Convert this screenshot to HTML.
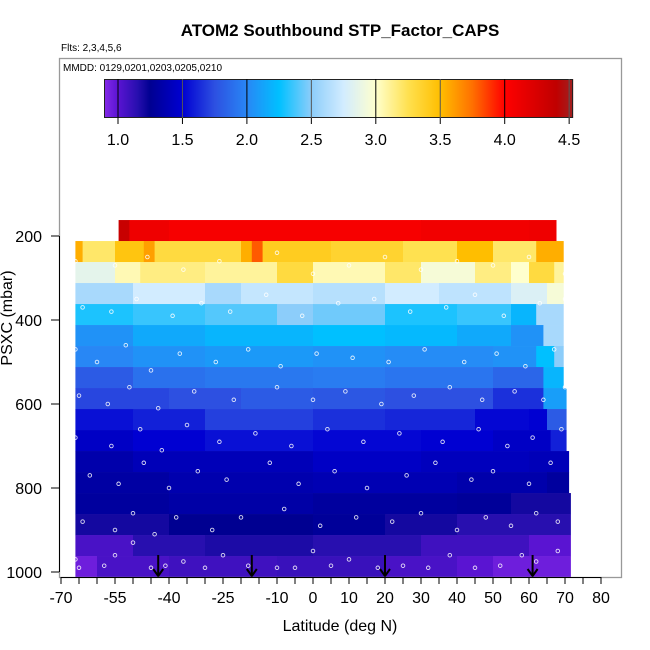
<!DOCTYPE html>
<html><head><meta charset="utf-8"><style>
body{margin:0;background:#fff}
svg{display:block;font-family:"Liberation Sans",sans-serif}
</style></head><body>
<svg id="c" width="650" height="650" viewBox="0 0 650 650">
<rect x="0" y="0" width="650" height="650" fill="#fff"/>
<g id="heat"></g>
<g id="pts"></g>
<g id="arrows"></g>
<rect x="59.5" y="58.5" width="562" height="519" fill="none" stroke="#999" stroke-width="1.3"/>
<g id="axes"></g>
<g id="cbar"></g>
<text x="340" y="36" text-anchor="middle" font-size="17" font-weight="bold">ATOM2 Southbound STP_Factor_CAPS</text>
<text x="61" y="51" font-size="10">Flts: 2,3,4,5,6</text>
<text x="63" y="71" font-size="10">MMDD: 0129,0201,0203,0205,0210</text>
<text x="340" y="631" text-anchor="middle" font-size="16">Latitude (deg N)</text>
<text transform="translate(12,318) rotate(-90)" text-anchor="middle" font-size="16">PSXC (mbar)</text>
</svg>
<script>
// ---- data ----
const bandCenters=[187,237,287,337,387,437,487,537,587,637,687,737,787,837,887,937,987];
const bandLatStart=[-54,-66,-66,-66,-66,-66,-66,-66,-66,-66,-66,-66,-66,-66,-66,-66,-66];
const bandLatEnd=[67.5,69.5,69.5,69.5,69.5,69.5,69.5,69.5,70.3,70.3,70.3,71,71,71.5,71.5,71.5,71.5];
// per band segments: [latFrom, value] (value holds until next segment)
const bandSegments=[
 [[-54,4.35],[-51,4.1],[-40,4.05],[30,4.08],[60,4.1]],
 [[-66,3.55],[-64,3.2],[-55,3.45],[-47,3.6],[-44,3.3],[-20,3.55],[-17,3.8],[-14,3.4],[5,3.35],[25,3.25],[40,3.5],[50,3.2],[62,3.55]],
 [[-66,2.85],[-55,3.05],[-48,3.15],[-30,3.1],[-10,3.3],[0,3.05],[20,3.2],[30,2.95],[45,3.15],[55,3.0],[60,3.3],[67,3.1]],
 [[-66,2.6],[-50,2.75],[-30,2.6],[-20,2.7],[0,2.65],[20,2.75],[35,2.68],[55,2.8],[65,2.95]],
 [[-66,2.3],[-50,2.35],[-30,2.4],[-10,2.5],[0,2.45],[20,2.3],[40,2.35],[55,2.2],[62,2.6]],
 [[-66,2.05],[-50,2.15],[-30,2.2],[0,2.25],[20,2.22],[40,2.15],[55,2.05],[64,2.6]],
 [[-66,2.0],[-50,2.05],[-30,2.08],[0,2.05],[20,2.02],[50,2.05],[62,2.25],[67,2.5]],
 [[-66,1.8],[-50,1.9],[-30,1.93],[0,1.95],[20,1.92],[50,1.85],[64,2.2]],
 [[-66,1.72],[-40,1.75],[-20,1.8],[0,1.78],[20,1.75],[50,1.65],[64,2.1]],
 [[-66,1.55],[-50,1.6],[-30,1.7],[0,1.65],[20,1.62],[45,1.52],[60,1.5],[65,1.8]],
 [[-66,1.45],[-50,1.5],[-30,1.55],[0,1.52],[30,1.5],[50,1.45],[66,1.6]],
 [[-66,1.35],[-50,1.4],[0,1.45],[30,1.42],[60,1.4]],
 [[-66,1.32],[-40,1.36],[0,1.38],[40,1.35],[65,1.3]],
 [[-66,1.3],[-40,1.33],[0,1.3],[40,1.28],[55,1.2]],
 [[-66,1.2],[-40,1.25],[0,1.28],[20,1.2],[40,1.15]],
 [[-66,1.05],[-50,1.15],[-30,1.18],[0,1.15],[30,1.08],[60,1.0]],
 [[-66,0.95],[-60,1.05],[-40,1.08],[-10,1.1],[20,1.05],[40,1.0],[50,0.95]]
];
const pointLat=[-66,-65,-58,-55,-50,-45,-41,-36,-30,-25,-18,-10,-5,0,5,10,18,25,32,38,45,52,58,62,68,
 -64,-55,-50,-44,-38,-28,-20,-8,2,12,22,30,40,48,55,62,68,
 -62,-54,-47,-40,-32,-24,-12,-4,6,15,26,34,44,50,60,66,
 -66,-56,-48,-42,-35,-26,-16,-6,4,14,24,36,46,54,61,69,
 -65,-57,-51,-43,-33,-22,-10,0,9,19,28,38,47,56,64,70,
 -66,-60,-52,-45,-37,-27,-18,-9,1,11,21,31,42,51,59,67,
 -64,-56,-49,-39,-31,-23,-13,-3,7,17,27,37,45,53,63,70,
 -66,-55,-46,-36,-26,-10,0,10,20,30,40,50,60,70];
const pointP=[970,990,985,960,930,990,985,975,990,960,985,990,990,950,985,970,990,985,990,960,990,985,960,975,950,
 880,900,860,910,870,900,870,850,890,870,880,860,900,870,890,860,880,
 770,790,740,800,760,780,740,790,760,800,770,740,780,760,790,740,
 680,700,660,710,650,690,670,700,660,690,670,690,660,700,680,660,
 580,600,560,610,570,590,560,590,570,600,580,560,590,570,590,560,
 470,500,460,520,480,500,470,510,480,490,500,470,500,480,510,470,
 370,380,350,390,360,380,340,390,360,350,380,370,340,390,360,350,
 260,270,250,280,260,240,290,270,250,280,260,270,250,290];
const arrowLat=[-43,-17,20,61];
const cbTicks=[1.0,1.5,2.0,2.5,3.0,3.5,4.0,4.5];
const xTickLabels=[-70,-55,-40,-25,-10,0,10,20,30,40,50,60,70,80];
const yTickLabels=[200,400,600,800,1000];
// ---- scales ----
const X=lat=>313+lat*3.6;
const Y=p=>572-(1000-p)*0.42;
const CB=v=>118+(v-1)*128.9;
const stops=[[0.9,[130,40,230]],[1.0,[90,20,210]],[1.15,[40,15,175]],[1.25,[0,0,145]],[1.5,[0,0,210]],[1.75,[45,80,225]],[2.0,[40,135,245]],[2.25,[0,192,255]],[2.5,[140,205,250]],[2.75,[210,236,255]],[3.0,[255,255,205]],[3.25,[255,225,80]],[3.5,[255,190,0]],[3.75,[255,112,0]],[4.0,[255,0,0]],[4.4,[192,0,0]],[4.53,[160,32,32]]];
function col(v){v=Math.max(0.9,Math.min(4.53,v));for(let i=0;i<stops.length-1;i++){const a=stops[i],b=stops[i+1];if(v<=b[0]){const t=(v-a[0])/(b[0]-a[0]);const c=a[1].map((x,j)=>Math.round(x+(b[1][j]-x)*t));return `rgb(${c})`;}}return 'rgb(160,32,32)';}
const NS='http://www.w3.org/2000/svg';
function mk(tag,attrs,parent){const e=document.createElementNS(NS,tag);for(const k in attrs)e.setAttribute(k,attrs[k]);parent.appendChild(e);return e;}
// heatmap
const heat=document.getElementById('heat');
bandCenters.forEach((pc,k)=>{
  const y0=Y(pc-25), y1=Math.min(Y(pc+25),577);
  const segs=bandSegments[k];
  segs.forEach((s,i)=>{
    const a=Math.max(s[0],bandLatStart[k]);
    const b=i<segs.length-1?segs[i+1][0]:bandLatEnd[k];
    const r=mk('rect',{x:X(a),y:y0,width:Math.max(0,X(b)-X(a))+0.5,height:y1-y0+0.3,fill:col(s[1])},heat);
    
    
  });
});
// points
const pts=document.getElementById('pts');
pointLat.forEach((la,i)=>{
  const c=mk('circle',{cx:X(la),cy:Y(pointP[i]),r:1.8,fill:'none',stroke:'#fff','stroke-width':0.9,'stroke-opacity':0.85},pts);
  
  
});
// arrows
const ar=document.getElementById('arrows');
arrowLat.forEach(la=>{
  const x=X(la);
  const g=mk('g',{},ar);
  
  
  mk('line',{x1:x,y1:555,x2:x,y2:576,stroke:'#000','stroke-width':2},g);
  mk('polyline',{points:`${x-5},569 ${x},576 ${x+5},569`,fill:'none',stroke:'#000','stroke-width':2},g);
});
// axes
const ax=document.getElementById('axes');
mk('line',{x1:X(-70),y1:577.5,x2:X(80),y2:577.5,stroke:'#000','stroke-width':1},ax);
for(let v=-70;v<=80;v+=5){mk('line',{x1:X(v),y1:577,x2:X(v),y2:584,stroke:'#000'},ax);}
xTickLabels.forEach(v=>{
  const t=mk('text',{x:X(v),y:603,'text-anchor':'middle','font-size':16},ax);t.textContent=v;
  
  
});
mk('line',{x1:59.5,y1:Y(200),x2:59.5,y2:Y(1000),stroke:'#000'},ax);
yTickLabels.forEach(v=>{
  mk('line',{x1:51,y1:Y(v),x2:59,y2:Y(v),stroke:'#000'},ax);
  const t=mk('text',{x:42,y:Y(v)+6,'text-anchor':'end','font-size':16},ax);t.textContent=v;
  
  
});
// colorbar
const cb=document.getElementById('cbar');
for(let x=104;x<573;x++){const v=1+(x+0.5-118)/128.9;mk('rect',{x:x,y:79,width:1.2,height:39,fill:col(v)},cb);}
mk('rect',{x:104.5,y:79.5,width:468,height:38,fill:'none',stroke:'#222'},cb);
cbTicks.forEach((v,i)=>{
  const x=CB(v);
  mk('line',{x1:x,y1:79,x2:x,y2:118,stroke:i%2==0?'#000':'#555'},cb);
  mk('line',{x1:x,y1:118,x2:x,y2:124,stroke:'#000'},cb);
  const t=mk('text',{x:x,y:145,'text-anchor':'middle','font-size':16},cb);t.textContent=v.toFixed(1);
  
  
});
</script>
</body></html>
